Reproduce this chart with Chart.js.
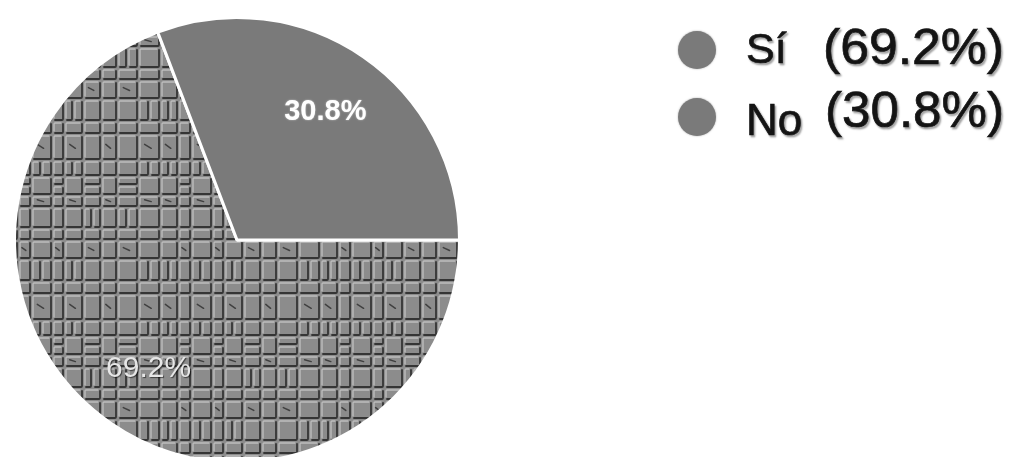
<!DOCTYPE html>
<html>
<head>
<meta charset="utf-8">
<script src="https://cdn.jsdelivr.net/npm/chart.js@4.4.1/dist/chart.umd.min.js"></script>
<style>
  html, body { margin: 0; padding: 0; background: #ffffff; overflow: hidden; }
  #wrap { position: relative; width: 1011px; height: 457px; overflow: hidden; }
  #box { position: absolute; left: 0; top: 0; width: 1011px; height: 470px; }
</style>
</head>
<body>
<div id="wrap"><div id="box"><canvas id="c"></canvas></div></div>
<script>
const categories = ['Sí', 'No'];
const values = [69.2, 30.8];
const sliceLabels = ['69.2%', '30.8%'];
const legendPercents = ['(69.2%)', '(30.8%)'];

// textured fill for the "Sí" slice (embossed block pattern)
function makeTexture() {
  const S = 160;
  const t = document.createElement('canvas');
  t.width = S; t.height = S;
  const g = t.getContext('2d');
  g.fillStyle = '#8c8c8c';
  g.fillRect(0, 0, S, S);
  const cols = [0, 18, 31, 52, 64, 83, 101, 117, 138, 160];
  const rows = [0, 16, 35, 47, 68, 80, 99, 121, 134, 160];
  function cell(x, y, w, h) {
    g.lineCap = 'round';
    g.lineWidth = 1.4;
    g.strokeStyle = '#bdbdbd';
    g.beginPath(); g.moveTo(x + 2, y + h - 3); g.lineTo(x + 2, y + 3); g.quadraticCurveTo(x + 2, y + 2, x + 3, y + 2); g.lineTo(x + w - 3, y + 2); g.stroke();
    g.lineWidth = 1.8;
    g.strokeStyle = '#353535';
    g.beginPath(); g.moveTo(x + w - 1, y + 3); g.lineTo(x + w - 1, y + h - 2); g.quadraticCurveTo(x + w - 1, y + h - 1, x + w - 2, y + h - 1); g.lineTo(x + 3, y + h - 1); g.stroke();
  }
  for (let i = 0; i < cols.length - 1; i++) {
    for (let j = 0; j < rows.length - 1; j++) {
      const x = cols[i], y = rows[j];
      const w = cols[i + 1] - x, h = rows[j + 1] - y;
      const k = (i * 3 + j * 5) % 6;
      if (k === 0 && w > 16) {
        cell(x, y, Math.floor(w / 2), h);
        cell(x + Math.floor(w / 2), y, w - Math.floor(w / 2), h);
      } else if (k === 2 && h > 16) {
        cell(x, y, w, Math.floor(h / 2));
        cell(x, y + Math.floor(h / 2), w, h - Math.floor(h / 2));
      } else if (k === 4) {
        cell(x, y, w, h);
        g.strokeStyle = '#404040'; g.lineWidth = 1.5;
        g.beginPath(); g.moveTo(x + w * 0.3, y + h * 0.4); g.lineTo(x + w * 0.6, y + h * 0.55); g.stroke();
      } else {
        cell(x, y, w, h);
      }
    }
  }
  return g.createPattern(t, 'repeat');
}

const ctx = document.getElementById('c').getContext('2d');
const texture = makeTexture();

const labelPlugin = {
  id: 'sliceLabels',
  afterDatasetsDraw(chart) {
    const c = chart.ctx;
    const meta = chart.getDatasetMeta(0);
    meta.data.forEach((arc, i) => {
      const p = arc.getProps(['x', 'y', 'startAngle', 'endAngle', 'outerRadius'], true);
      const mid = (p.startAngle + p.endAngle) / 2;
      const r = p.outerRadius * 0.7;
      const x = p.x + Math.cos(mid) * r;
      const y = p.y + Math.sin(mid) * r;
      c.save();
      c.textAlign = 'center';
      c.textBaseline = 'middle';
      if (i === 1) {
        c.font = 'bold 29px "Liberation Sans", Arial, sans-serif';
        c.fillStyle = '#ffffff';
        c.shadowColor = 'rgba(255,255,255,0.6)';
        c.shadowBlur = 2;
      } else {
        c.font = '30px "Liberation Sans", Arial, sans-serif';
        c.fillStyle = '#e6e6e6';
        c.shadowColor = 'rgba(0,0,0,0.55)';
        c.shadowOffsetX = 1; c.shadowOffsetY = 1; c.shadowBlur = 1;
      }
      c.fillText(sliceLabels[i], x, y);
      c.restore();
    });
  }
};

const legendPlugin = {
  id: 'bigLegend',
  afterDraw(chart) {
    const c = chart.ctx;
    const items = [
      { cy: 50, labelX: 746, labelBase: 63, labelFont: 43, pctX: 823, pctBase: 64, pctFont: 50, pctW: 181 },
      { cy: 117, labelX: 746, labelBase: 135, labelFont: 44, pctX: 825, pctBase: 127, pctFont: 50, pctW: 179 }
    ];
    items.forEach((it, i) => {
      c.save();
      c.fillStyle = '#7a7a7a';
      c.shadowColor = 'rgba(0,0,0,0.35)';
      c.shadowBlur = 2;
      c.beginPath(); c.arc(697, it.cy, 19, 0, Math.PI * 2); c.fill();
      c.restore();

      c.save();
      c.fillStyle = '#161616';
      c.strokeStyle = '#161616';
      c.lineWidth = 0.7;
      c.shadowColor = 'rgba(0,0,0,0.35)';
      c.shadowOffsetX = 1.5; c.shadowOffsetY = 1.5; c.shadowBlur = 2;
      c.textBaseline = 'alphabetic';
      c.textAlign = 'left';
      c.font = it.labelFont + 'px "Liberation Sans", Arial, sans-serif';
      c.fillText(categories[i], it.labelX, it.labelBase);
      c.strokeText(categories[i], it.labelX, it.labelBase);
      c.font = it.pctFont + 'px "Liberation Sans", Arial, sans-serif';
      const w = c.measureText(legendPercents[i]).width;
      const s = it.pctW / w;
      c.translate(it.pctX, it.pctBase);
      c.scale(s, 1);
      c.fillText(legendPercents[i], 0, 0);
      c.strokeText(legendPercents[i], 0, 0);
      c.restore();
    });
  }
};

new Chart(ctx, {
  type: 'pie',
  data: {
    labels: categories,
    datasets: [{
      data: values,
      backgroundColor: [texture, '#7a7a7a'],
      borderColor: '#ffffff',
      borderWidth: 3
    }]
  },
  options: {
    responsive: true,
    maintainAspectRatio: false,
    animation: false,
    rotation: 90,
    layout: { padding: { left: 13, right: 550, top: 16, bottom: 6 } },
    plugins: {
      legend: { display: false },
      tooltip: { enabled: false }
    }
  },
  plugins: [labelPlugin, legendPlugin]
});
</script>
</body>
</html>
